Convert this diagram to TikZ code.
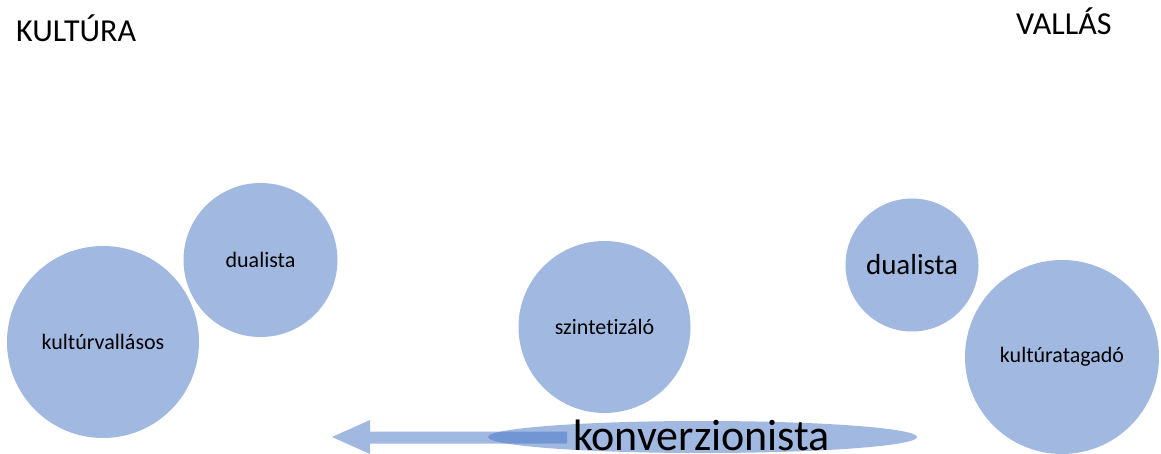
\documentclass[tikz,border=0pt]{standalone}
\usepackage{fontspec}
\setmainfont{Carlito}[Ligatures=NoCommon]
\usetikzlibrary{shapes.geometric}
\definecolor{accent}{HTML}{4472C4}
\tikzset{
  bubble/.style={circle, fill=accent, fill opacity=0.5, text opacity=1, inner sep=0pt, text=black},
  title/.style={anchor=base west, inner sep=0pt, font=\fontsize{32}{38}\selectfont},
  lbl/.style={font=\fontsize{22}{26}\selectfont},
  lblbig/.style={font=\fontsize{29}{33}\selectfont}
}
\begin{document}
\begin{tikzpicture}[x=1pt,y=-1pt]
\useasboundingbox (0,0) rectangle (1161,454);
% titles
\node[title] (kultura) at (16,42) {KULTÚRA};
\node[title] (vallas) at (1016,35) {VALLÁS};
% circles
\node[bubble, minimum size=192pt, lbl] (kv) at (103,342) {kultúrvallásos};
\node[bubble, minimum size=154pt, lbl] (d1) at (260.5,260) {dualista};
\node[bubble, minimum size=172pt, lbl] (sz) at (604.5,327) {szintetizáló};
\node[bubble, minimum size=133pt, lblbig] (d2) at (912,265) {dualista};
\node[bubble, minimum size=194pt, lbl] (kt) at (1062,357) {kultúratagadó};
% ellipse and arrow
\node[ellipse, fill=accent, fill opacity=0.5, minimum width=429pt, minimum height=32pt, inner sep=0pt] (ell) at (702.5,437) {};
\fill[accent, fill opacity=0.5] (332,437) -- (370,420) -- (370,431.5) -- (567,431.5) -- (567,443.5) -- (370,443.5) -- (370,454) -- cycle;
\node[anchor=base west, inner sep=0pt, font=\fontsize{44}{50}\selectfont] (konv) at (573,450) {konverzionista};
\end{tikzpicture}
\end{document}
